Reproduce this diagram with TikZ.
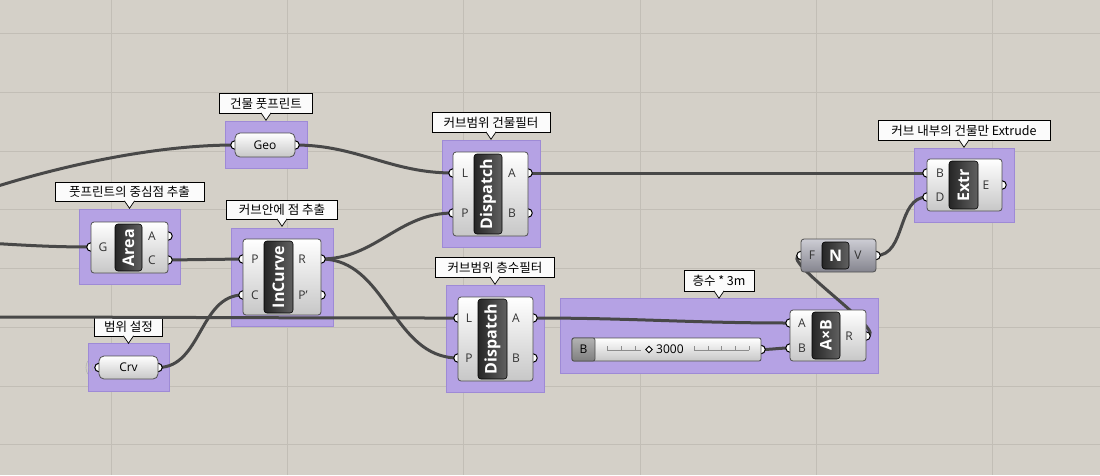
\documentclass[tikz,border=0pt]{standalone}
\usepackage{fontspec}
\setmainfont{Open Sans}
\newfontfamily\kofont{Noto Sans CJK KR}
\usepackage{xcolor}
\usepackage{tikz}
\usetikzlibrary{positioning,shapes,arrows.meta}
\definecolor{canvas}{RGB}{212,208,200}
\definecolor{gridln}{RGB}{194,190,182}
\definecolor{grpfill}{RGB}{181,162,228}
\definecolor{grpline}{RGB}{158,138,214}
\definecolor{wirecol}{RGB}{72,72,72}
\definecolor{bodyline}{RGB}{80,80,80}
\definecolor{ntop}{RGB}{205,205,212}
\definecolor{nbot}{RGB}{132,132,142}

\begin{document}
\begin{tikzpicture}[x=1pt,y=-1pt,
grp/.style={fill=grpfill,draw=grpline,line width=0.6pt,inner sep=0pt},
note/.style={draw=black,fill=white!97!gray,line width=0.7pt,inner sep=0pt,font=\kofont\fontsize{12.5}{14}\selectfont},
tip/.style={fill=white!97!gray,draw=black,line width=0.7pt},
body/.style={draw=bodyline,line width=0.8pt,rounded corners=3pt,top color=white,bottom color=black!22,inner sep=0pt},
strip/.style={draw=black,line width=0.6pt,rounded corners=3pt,left color=black!85,right color=black!62,inner sep=0pt,rotate=90,text=white,font=\bfseries\fontsize{16}{16}\selectfont},
port/.style={circle,draw=black,fill=white,line width=1pt,inner sep=0pt,minimum size=8.5pt},
plbl/.style={inner sep=0pt,text=black!80,font=\fontsize{12}{14}\selectfont},
wire/.style={draw=wirecol,line width=3pt}]
\useasboundingbox (0,0) rectangle (1100,475);
\clip (0,0) rectangle (1100,475);
\fill[canvas] (0,0) rectangle (1100,475);
\foreach \gx in {111,287.5,463.5,640,816,992.5}
  \draw[gridln,line width=1pt] (\gx,0) -- (\gx,475);
\foreach \gy in {33.5,92,151,209.5,268,327,386,444.5}
  \draw[gridln,line width=1pt] (0,\gy) -- (1100,\gy);

\coordinate (offGeo) at (-30,195);
\coordinate (offArea) at (-100,240);
\coordinate (offDisp) at (-60,317);
\coordinate (geoIn) at (235,145);
\coordinate (geoOut) at (295,145);
\coordinate (crvIn) at (99,367.5);
\coordinate (crvOut) at (158,367.5);
\coordinate (areaG) at (91,247);
\coordinate (areaA) at (168,236);
\coordinate (areaC) at (168,260);
\coordinate (incP) at (243,259);
\coordinate (incC) at (243,295);
\coordinate (incR) at (321,259);
\coordinate (incPp) at (321,295);
\coordinate (dispaL) at (453,173);
\coordinate (dispaP) at (453,213);
\coordinate (dispaA) at (528,173);
\coordinate (dispaB) at (528,213);
\coordinate (dispbL) at (458,318);
\coordinate (dispbP) at (458,358);
\coordinate (dispbA) at (533,318);
\coordinate (dispbB) at (533,358);
\coordinate (mulA) at (790,323);
\coordinate (mulB) at (790,348);
\coordinate (mulR) at (866,336);
\coordinate (sldOut) at (761,349.5);
\coordinate (extrB) at (927,173);
\coordinate (extrD) at (927,197);
\coordinate (extrE) at (1002,185);
\coordinate (unitF) at (801,255.5);
\coordinate (unitV) at (876,255.5);

\node[grp,minimum width=82pt,minimum height=47pt] (geoGrp) at (266,144.5) {};
\node[grp,minimum width=101pt,minimum height=75pt] (areaGrp) at (129.5,246.5) {};
\node[grp,minimum width=102pt,minimum height=98pt] (incGrp) at (282,277) {};
\node[grp,minimum width=98pt,minimum height=107pt] (dispaGrp) at (491,193.5) {};
\node[grp,minimum width=98pt,minimum height=107pt] (dispbGrp) at (495,338.5) {};
\node[grp,minimum width=318pt,minimum height=75pt] (mulGrp) at (719,335.5) {};
\node[grp,minimum width=100pt,minimum height=74pt] (extrGrp) at (964,185) {};
\node[grp,minimum width=81pt,minimum height=48pt] (crvGrp) at (128.5,367) {};

\node[note,minimum width=93pt,minimum height=20pt,above=7pt of geoGrp] (geoNote) {건물 풋프린트};
\node[note,minimum width=149pt,minimum height=19pt,above=7pt of areaGrp] (areaNote) {풋프린트의 중심점 추출};
\node[note,minimum width=111pt,minimum height=19pt,above=8pt of incGrp] (incNote) {커브안에 점 추출};
\node[note,minimum width=118pt,minimum height=20pt,above=7pt of dispaGrp] (dispaNote) {커브범위 건물필터};
\node[note,minimum width=119pt,minimum height=20pt,above=7pt of dispbGrp] (dispbNote) {커브범위 층수필터};
\node[note,minimum width=70pt,minimum height=21pt,above=6pt of mulGrp] (mulNote) {층수 * 3m};
\node[note,minimum width=172pt,minimum height=20pt,above=7pt of extrGrp] (extrNote) {커브 내부의 건물만 Extrude};
\node[note,minimum width=68pt,minimum height=20pt,above=6pt of crvGrp] (crvNote) {범위 설정};
\foreach \n in {geoNote,areaNote,incNote,dispaNote,dispbNote,mulNote,extrNote,crvNote}
  \draw[tip] ([xshift=-5pt,yshift=0.8pt]\n.south) -- ++(5,7.4) -- ++(5,-7.4);

\draw[wire] (offGeo) .. controls +(80,-27) and +(-85,0) .. (geoIn);
\draw[wire] (offArea) to[out=0,in=180] (areaG);
\draw[wire] (offDisp) to[out=0,in=180] (dispbL);
\draw[wire] (geoOut) to[out=0,in=180] (dispaL);
\draw[wire] (areaC) -- (incP);
\draw[wire] (crvOut) to[out=0,in=180] (incC);
\draw[wire] (incR) to[out=0,in=180] (dispaP);
\draw[wire] (incR) to[out=0,in=180] (dispbP);
\draw[wire] (dispaA) -- (extrB);
\draw[wire] (dispbA) to[out=0,in=180] (mulA);
\draw[wire] (sldOut) to[out=0,in=180] (mulB);
\draw[wire] (mulR) .. controls +(28,0) and +(-28,0) .. (unitF);
\draw[wire] (unitV) to[out=0,in=180] (extrD);

\foreach \r in {7,10,13}
  \draw[black!30,line width=0.6pt] (crvIn) ++(150:\r) arc (150:210:\r);
\foreach \p in {geoIn,geoOut,crvIn,crvOut,areaG,areaA,areaC,incP,incC,incR,incPp,dispaL,dispaP,dispaA,dispaB,dispbL,dispbP,dispbA,dispbB,mulA,mulB,mulR,sldOut,extrB,extrD,extrE,unitF,unitV}
  \node[port] at (\p) {};

\node[body,rounded corners=5pt,minimum width=60pt,minimum height=24pt,font=\fontsize{12}{14}\selectfont] (geo) at (265,145) {Geo};
\node[body,rounded corners=5pt,minimum width=59pt,minimum height=23pt,font=\fontsize{12}{14}\selectfont] (crv) at (128.5,367.5) {Crv};

\node[body,minimum width=77pt,minimum height=51pt] (area) at (129.5,247.5) {};
\node[strip,minimum width=47pt,minimum height=27pt] (areaS) at (128.5,247.5) {Area};
\node[body,minimum width=78pt,minimum height=76pt] (inc) at (282,277) {};
\node[strip,minimum width=72pt,minimum height=29pt] (incS) at (278.5,277) {InCurve};
\node[body,minimum width=75pt,minimum height=84pt] (dispa) at (490.5,194) {};
\node[strip,minimum width=80pt,minimum height=28pt] (dispaS) at (488,194) {Dispatch};
\node[body,minimum width=75pt,minimum height=84pt] (dispb) at (495.5,339) {};
\node[strip,minimum width=80pt,minimum height=29pt] (dispbS) at (492.5,339) {Dispatch};
\node[body,minimum width=76pt,minimum height=51pt] (mul) at (828,335.5) {};
\node[strip,minimum width=47pt,minimum height=28pt] (mulS) at (826,335.5) {A×B};
\node[body,minimum width=75pt,minimum height=52pt] (extr) at (964.5,185) {};
\node[strip,minimum width=48pt,minimum height=29pt] (extrS) at (963.5,185) {Extr};
\node[body,top color=ntop,bottom color=nbot,minimum width=75pt,minimum height=33pt] (unit) at (838.5,255.5) {};
\node[strip,rotate=-90,minimum width=27pt,minimum height=27pt] (unitS) at (835.5,255.5) {N};

\node[body,rounded corners=2pt,minimum width=189pt,minimum height=23pt] (sld) at (666.5,349.5) {};
\node[draw=bodyline,line width=0.8pt,rounded corners=2pt,top color=black!30,bottom color=black!50,minimum width=23pt,minimum height=23pt,inner sep=0pt,font=\fontsize{12}{14}\selectfont] (sldName) at (583.5,349.5) {B};
\draw[black!45,line width=0.5pt] (607,350) -- (641,350) (694,350) -- (749,350);
\foreach \tx in {607,621,635,694,708,721,735,749}
  \draw[black!45,line width=0.5pt] (\tx,346) -- (\tx,350);
\node[diamond,draw=black,fill=white,line width=0.9pt,inner sep=0pt,minimum size=7pt] (sldKnob) at (649,349.5) {};
\node[inner sep=0pt,anchor=west,font=\fontsize{12}{14}\selectfont] (sldVal) at (656,349.5) {3000};

\foreach \lx/\ly/\lt in {103/247/G,152/236/A,152/260/C,255/259/P,255/295/C,302/259/R,303/295/P',465/173/L,465/213/P,512/173/A,512/213/B,469/318/L,469/358/P,516/318/A,516/358/B,802/323/A,802/348/B,849/336/R,940/173/B,940/197/D,986/185/E,812/255.5/F,858/255.5/V}
  \node[plbl] at (\lx,\ly) {\lt};
\end{tikzpicture}
\end{document}
